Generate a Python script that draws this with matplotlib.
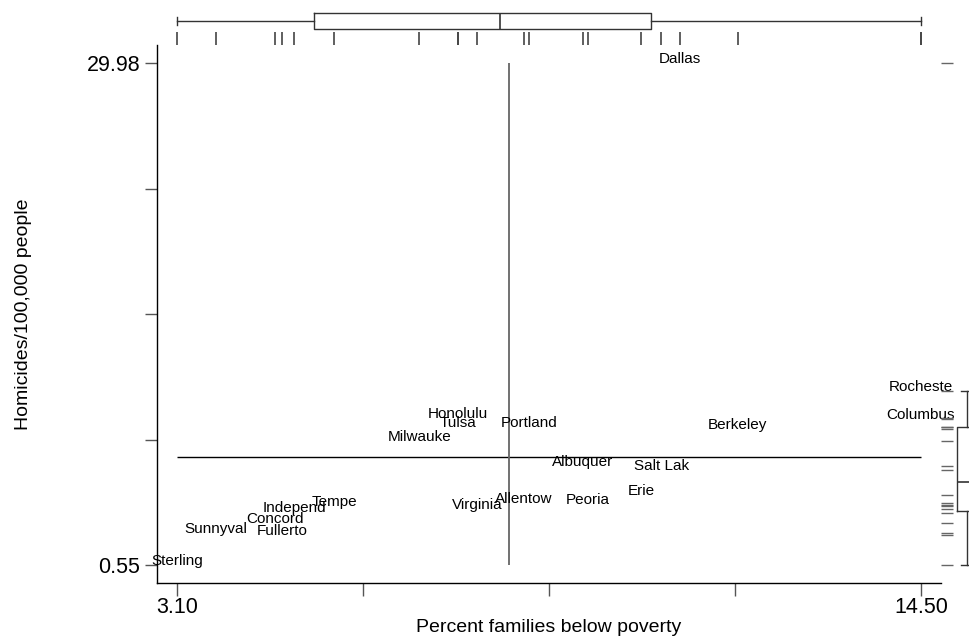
import numpy as np
import matplotlib.pyplot as plt

plt.rcParams['font.family'] = ['Liberation Sans', 'DejaVu Sans']

cities = ["Sterling", "Sunnyval", "Concord", "Fullerto", "Independ", "Tempe",
          "Milwauke", "Honolulu", "Tulsa", "Virginia", "Allentow", "Portland",
          "Albuquer", "Peoria", "Erie", "Salt Lak", "Dallas", "Berkeley",
          "Rocheste", "Columbus"]
poverty = [3.10, 3.69, 4.60, 4.71, 4.90, 5.51,
           6.81, 7.40, 7.40, 7.70, 8.41, 8.50,
           9.32, 9.40, 10.21, 10.52, 10.80, 11.69,
           14.50, 14.50]
homicides = [0.55, 2.40, 2.99, 2.29, 3.62, 4.01,
             7.82, 9.17, 8.64, 3.82, 4.17, 8.64,
             6.36, 4.09, 4.66, 6.12, 29.98, 8.53,
             10.77, 9.10]

x = np.array(poverty)
y = np.array(homicides)

W, H = 970, 639
fig = plt.figure(figsize=(W / 100, H / 100), dpi=100)

# main plot area in pixel terms
L, R, T, B = 157, 941, 45, 583


def px_axes(left, right, top, bottom):
    return fig.add_axes([left / W, 1 - bottom / H, (right - left) / W, (bottom - top) / H])


def box_stats(v):
    q1, med, q3 = np.percentile(v, [25, 50, 75], method='averaged_inverted_cdf')
    iqr = q3 - q1
    lo = v[v >= q1 - 1.5 * iqr].min()
    hi = v[v <= q3 + 1.5 * iqr].max()
    return dict(med=med, q1=q1, q3=q3, whislo=lo, whishi=hi, fliers=[])


ax = px_axes(L, R, T, B)
xmin, xmax = x.min(), x.max()
ymin, ymax = y.min(), y.max()
xpad = (xmax - xmin) * 20 / 744
ypad = (ymax - ymin) * 18 / 502
ax.set_xlim(xmin - xpad, xmax + xpad)
ax.set_ylim(ymin - ypad, ymax + ypad)

for s in ['top', 'right']:
    ax.spines[s].set_visible(False)
for s in ['left', 'bottom']:
    ax.spines[s].set_linewidth(1.0)

xt = np.linspace(xmin, xmax, 5)
yt = np.linspace(ymin, ymax, 5)
ax.set_xticks(xt, [f"{xmin:.2f}", "", "", "", f"{xmax:.2f}"])
ax.set_yticks(yt, [f"{ymin:.2f}", "", "", "", f"{ymax:.2f}"])
ax.tick_params(axis='both', length=9, width=1, color='#555555', labelsize=15.5)
ax.tick_params(axis='y', pad=3)
ax.tick_params(axis='x', pad=1)

# mean lines
ax.hlines(y.mean(), xmin, xmax, color='black', lw=1)
ax.vlines(x.mean(), ymin, ymax, color='#666666', lw=1.3)

for name, xi, yi in zip(cities, x, y):
    ax.annotate(name, (xi, yi), xytext=(0, 3), textcoords='offset points',
                ha='center', va='center', fontsize=11)

ax.set_xlabel("Percent families below poverty", fontsize=14, va='center')
ax.xaxis.set_label_coords(0.5, (B - 628) / (B - T))
ax.set_ylabel("Homicides/100,000 people", fontsize=14, va='center')
ax.yaxis.set_label_coords((23 - L) / (R - L), 0.5)

# marginal box plot + rug along the top
axt = px_axes(L, R, 0, T)
axt.set_xlim(ax.get_xlim())
axt.set_ylim(T, 0)
axt.axis('off')
axt.bxp([box_stats(x)], positions=[21], widths=16.6, orientation='horizontal',
        capwidths=8, showfliers=False,
        boxprops=dict(color='#333333', lw=1), whiskerprops=dict(color='#333333', lw=1),
        capprops=dict(color='#333333', lw=1), medianprops=dict(color='#333333', lw=1.2))
axt.vlines(x, 32, 45, color='#444444', lw=1.2)

# marginal box plot + rug on the right
axr = px_axes(935, 995, T, B)
axr.set_ylim(ax.get_ylim())
axr.set_xlim(935, 995)
axr.axis('off')
axr.bxp([box_stats(y)], positions=[966.7], widths=20, orientation='vertical',
        capwidths=12, showfliers=False,
        boxprops=dict(color='#333333', lw=1), whiskerprops=dict(color='#333333', lw=1),
        capprops=dict(color='#333333', lw=1), medianprops=dict(color='#333333', lw=1.2))
axr.hlines(y, 941, 953, color='#666666', lw=1.0)

fig.savefig("out.png", dpi=100)
